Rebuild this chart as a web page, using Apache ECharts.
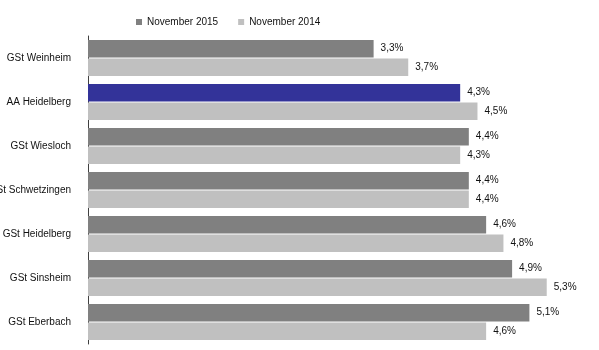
<!DOCTYPE html>
<html>
<head>
<meta charset="utf-8">
<script src="https://cdn.jsdelivr.net/npm/echarts@6/dist/echarts.min.js"></script>
<style>
  html, body { margin: 0; padding: 0; background: #fff; }
  #chart { width: 599px; height: 350px; }
</style>
</head>
<body>
<div id="chart"></div>
<script>
// Arbeitslosenquoten je Geschäftsstelle
const categories = [
  'GSt Weinheim',
  'AA Heidelberg',
  'GSt Wiesloch',
  'GSt Schwetzingen',
  'GSt Heidelberg',
  'GSt Sinsheim',
  'GSt Eberbach'
];
const seriesNames = ['November 2015', 'November 2014'];
const nov2015 = [3.3, 4.3, 4.4, 4.4, 4.6, 4.9, 5.1];
const nov2014 = [3.7, 4.5, 4.3, 4.4, 4.8, 5.3, 4.6];

const DARK = '#808080';
const LIGHT = '#c0c0c0';
const HIGHLIGHT = '#333399';
const highlightCategory = 'AA Heidelberg';

const fmt = v => v.toFixed(1).replace('.', ',') + '%';

const labelStyle = {
  show: true,
  position: 'right',
  distance: 7,
  color: '#111',
  fontFamily: 'Liberation Sans, Arial, sans-serif',
  fontSize: 10,
  formatter: p => fmt(p.value)
};

const chart = echarts.init(document.getElementById('chart'), null, { renderer: 'canvas' });
chart.setOption({
  animation: false,
  backgroundColor: '#ffffff',
  textStyle: { fontFamily: 'Liberation Sans, Arial, sans-serif' },
  legend: {
    data: seriesNames,
    left: 131,
    top: 12,
    itemWidth: 6,
    itemHeight: 6,
    itemGap: 20,
    icon: 'rect',
    textStyle: { fontSize: 10, color: '#111' }
  },
  grid: {
    left: 88, right: 9, top: 36, bottom: 6,
    containLabel: false,
    outerBoundsMode: 'none'
  },
  xAxis: {
    type: 'value',
    min: 0,
    max: 5.8,
    show: false
  },
  yAxis: {
    type: 'category',
    data: categories,
    inverse: true,
    axisTick: { show: false },
    axisLine: { show: true, lineStyle: { color: '#404040', width: 1 } },
    axisLabel: { margin: 17, fontSize: 10, color: '#111' }
  },
  series: [
    {
      name: seriesNames[0],
      type: 'bar',
      itemStyle: { color: DARK },
      barGap: '6%',
      barCategoryGap: '18%',
      label: labelStyle,
      data: nov2015.map((v, i) => categories[i] === highlightCategory
        ? { value: v, itemStyle: { color: HIGHLIGHT } }
        : v)
    },
    {
      name: seriesNames[1],
      type: 'bar',
      itemStyle: { color: LIGHT },
      barGap: '6%',
      barCategoryGap: '18%',
      label: labelStyle,
      data: nov2014
    }
  ]
});
</script>
</body>
</html>
